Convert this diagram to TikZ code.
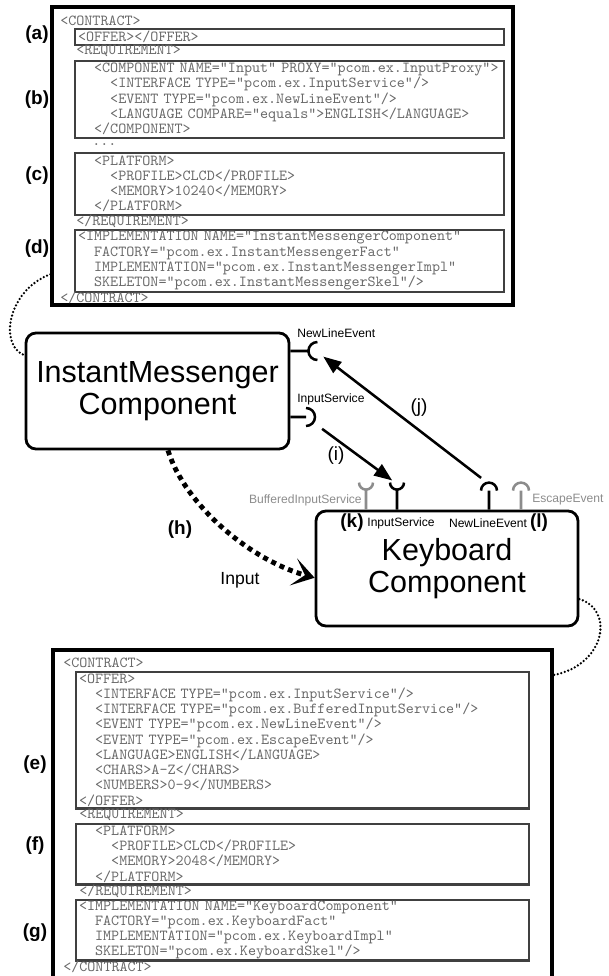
\documentclass[tikz,border=0pt]{standalone}
\usepackage{fontspec}
\setmainfont{Liberation Sans}
\usepackage{tikz}
\usetikzlibrary{arrows.meta,positioning,fit,calc}
\definecolor{XmlGray}{RGB}{105,105,105}
\definecolor{PortGray}{RGB}{140,140,140}
\newcommand{\lvl}{\phantom{xx}}
\newcommand{\xmltext}{\ttfamily\fontsize{10.9}{10.85}\selectfont}

\begin{document}
\begin{tikzpicture}[
 x=0.25mm, y=-0.25mm,
 contractbox/.style={draw, line width=2.2pt, inner sep=0pt},
 xmlbox/.style={draw=black!75, line width=1.5pt, anchor=north west, align=left, inner xsep=0.75mm, inner ysep=0pt, font=\xmltext, text=XmlGray},
 xmlline/.style={anchor=west, inner sep=0pt, font=\xmltext, text=XmlGray},
 comp/.style={draw, line width=2pt, rounded corners=2.5mm, align=center, font=\fontsize{21.7}{22.7}\selectfont},
 partlabel/.style={font=\fontsize{13.5}{14}\selectfont\bfseries, inner sep=0pt},
 portlabel/.style={font=\fontsize{8.6}{9}\selectfont, inner sep=0pt},
 port/.style={line width=1.8pt},
 arr/.style={-{Triangle[length=4.5mm,width=3.4mm]}, line width=1.8pt},
 dep/.style={line width=3.5pt, dash pattern=on 3.5pt off 3pt, -{Stealth[length=5.5mm,width=7mm,inset=3mm]}},
 link/.style={line width=1.8pt, line cap=round, dash pattern=on 0pt off 2.6pt}
]
\useasboundingbox (0,0) rectangle (608,976);

\node[contractbox, fit={(52,7) (513,305)}] (imContract) {};
\node[xmlline] (imOpen) at (60,21) {<CONTRACT>};
\node[xmlbox, text width=105.75mm, minimum height=3.85mm] (imOffer) at (74,28.3) {<OFFER></OFFER>};
\node[xmlline] (imReq) at (76,51.2) {<REQUIREMENT>};
\node[xmlbox, text width=105.75mm, minimum height=19.25mm] (imComponent) at (74,59.5) {\lvl<COMPONENT~NAME="Input"~PROXY="pcom.ex.InputProxy">\\
 \lvl\lvl<INTERFACE TYPE="pcom.ex.InputService"/>\\
 \lvl\lvl<EVENT TYPE="pcom.ex.NewLineEvent"/>\\
 \lvl\lvl<LANGUAGE COMPARE="equals">ENGLISH</LANGUAGE>\\
 \lvl</COMPONENT>};
\node[xmlline] (imDots) at (92,145) {...};
\node[xmlbox, text width=105.75mm, minimum height=15.4mm] (imPlatform) at (74,152) {\lvl<PLATFORM>\\
 \lvl\lvl<PROFILE>CLCD</PROFILE>\\
 \lvl\lvl<MEMORY>10240</MEMORY>\\
 \lvl</PLATFORM>};
\node[xmlline] (imReqEnd) at (76,221.2) {</REQUIREMENT>};
\node[xmlbox, text width=105.75mm, minimum height=15.4mm] (imImpl) at (74,229) {<IMPLEMENTATION NAME="InstantMessengerComponent"\\
 \lvl FACTORY="pcom.ex.InstantMessengerFact"\\
 \lvl IMPLEMENTATION="pcom.ex.InstantMessengerImpl"\\
 \lvl SKELETON="pcom.ex.InstantMessengerSkel"/>};
\node[xmlline] (imClose) at (60,298) {</CONTRACT>};

\node[partlabel] (tagA) at (37,35) {(a)};
\node[partlabel] (tagB) at (37,100) {(b)};
\node[partlabel] (tagC) at (37,176) {(c)};
\node[partlabel] (tagD) at (37,249) {(d)};

\node[contractbox, fit={(53,650) (552,990)}] (kbContract) {};
\node[xmlline] (kbOpen) at (63,663) {<CONTRACT>};
\node[xmlbox, text width=111.75mm, minimum height=34.2mm] (kbOffer) at (75,670.6) {<OFFER>\\
 \lvl<INTERFACE TYPE="pcom.ex.InputService"/>\\
 \lvl<INTERFACE TYPE="pcom.ex.BufferedInputService"/>\\
 \lvl<EVENT TYPE="pcom.ex.NewLineEvent"/>\\
 \lvl<EVENT TYPE="pcom.ex.EscapeEvent"/>\\
 \lvl<LANGUAGE>ENGLISH</LANGUAGE>\\
 \lvl<CHARS>A-Z</CHARS>\\
 \lvl<NUMBERS>0-9</NUMBERS>\\
 </OFFER>};
\node[xmlline] (kbReq) at (79,815) {<REQUIREMENT>};
\node[xmlbox, text width=111.75mm, minimum height=15.2mm] (kbPlatform) at (75,822.6) {\lvl<PLATFORM>\\
 \lvl\lvl<PROFILE>CLCD</PROFILE>\\
 \lvl\lvl<MEMORY>2048</MEMORY>\\
 \lvl</PLATFORM>};
\node[xmlline] (kbReqEnd) at (79,891) {</REQUIREMENT>};
\node[xmlbox, text width=111.75mm, minimum height=15.2mm] (kbImpl) at (75,898.6) {<IMPLEMENTATION NAME="KeyboardComponent"\\
 \lvl FACTORY="pcom.ex.KeyboardFact"\\
 \lvl IMPLEMENTATION="pcom.ex.KeyboardImpl"\\
 \lvl SKELETON="pcom.ex.KeyboardSkel"/>};
\node[xmlline] (kbClose) at (63,967) {</CONTRACT>};

\node[partlabel] (tagE) at (35,765) {(e)};
\node[partlabel] (tagF) at (35,846) {(f)};
\node[partlabel] (tagG) at (35,933) {(g)};

\node[comp, minimum width=65.75mm, minimum height=29mm] (imComp) at (157.5,391) {InstantMessenger\\Component};
\node[comp, minimum width=65.5mm, minimum height=28.75mm] (kbComp) at (447,568.5) {Keyboard\\Component};

\coordinate (imNewLine) at (316,351);
\coordinate (imInput) at (306,417);
\coordinate (kbBuffered) at (366,484);
\coordinate (kbInput) at (397,484);
\coordinate (kbNewLine) at (489,484);
\coordinate (kbEscape) at (521,484);

\draw[port] (imComp.east |- imNewLine) -- ++(18,0) ++(9,-9) arc[start angle=270, end angle=90, radius=9];
\draw[port] (imComp.east |- imInput) -- (imInput) ++(0,-9) arc[start angle=270, end angle=450, radius=9];
\draw[port, PortGray] (kbComp.north -| kbBuffered) -- ++(0,-20) ++(-7,-7) arc[start angle=180, end angle=0, radius=7];
\draw[port] (kbComp.north -| kbInput) -- ++(0,-20) ++(-7,-7) arc[start angle=180, end angle=0, radius=7];
\draw[port] (kbComp.north -| kbNewLine) -- ++(0,-19) ++(-8,0) arc[start angle=180, end angle=360, radius=8];
\draw[port, PortGray] (kbComp.north -| kbEscape) -- ++(0,-19) ++(-8,0) arc[start angle=180, end angle=360, radius=8];

\node[portlabel, anchor=west] (lblImNewLine) at (297,333) {NewLineEvent};
\node[portlabel, anchor=west] (lblImInput) at (297,399) {InputService};
\node[portlabel, anchor=east, text=PortGray] (lblBuffered) at (362,500) {BufferedInputService};
\node[portlabel, anchor=west, text=PortGray] (lblEscape) at (532,500) {EscapeEvent};
\node[portlabel] (lblKbInput) at (401,523) {InputService};
\node[portlabel] (lblKbNewLine) at (488,523) {NewLineEvent};
\node[partlabel] (tagK) at (352,523) {(k)};
\node[partlabel] (tagL) at (539,523) {(l)};

\draw[arr, shorten <=5mm, shorten >=1.5mm] (imInput) -- (kbInput);
\draw[arr, shorten <=2.5mm, shorten >=2.3mm] (kbNewLine) -- (imNewLine);
\node[font=\fontsize{13.5}{14}\selectfont] (tagI) at (336,456) {(i)};
\node[font=\fontsize{13.5}{14}\selectfont] (tagJ) at (419,408) {(j)};

\draw[dep] (imComp.280) .. controls (185,505) and (250,560) .. (kbComp.184);
\node[partlabel] (tagH) at (180,530) {(h)};
\node[font=\fontsize{12.5}{13}\selectfont] (lblInput) at (240,580) {Input};

\draw[link] (imContract.207) .. controls (8,290) and (-2,345) .. (imComp.165);
\draw[link] (kbComp.347) .. controls (615,610) and (605,665) .. (kbContract.30);
\end{tikzpicture}
\end{document}
